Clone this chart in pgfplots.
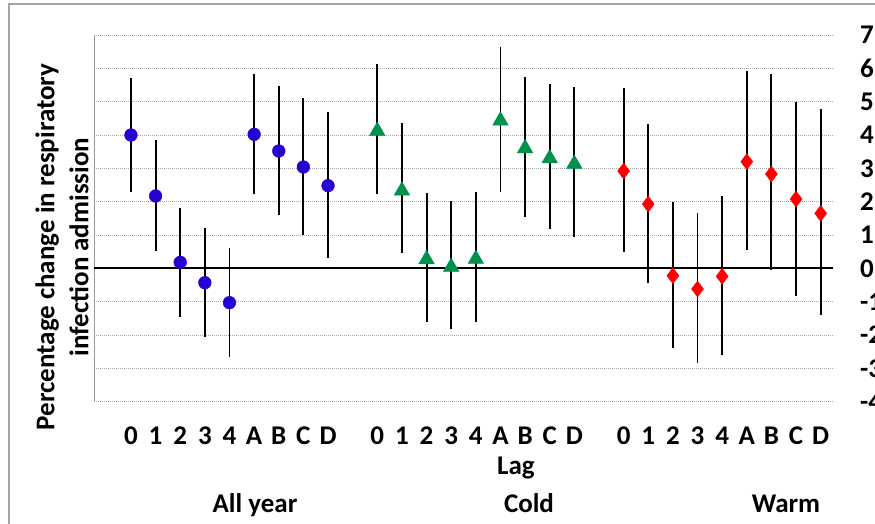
\documentclass[border=0pt]{standalone}
\usepackage{pgfplots}
\pgfplotsset{compat=1.18}
\usepackage{pgfplotstable}
\usepackage{fontspec}
\setmainfont{Carlito}
\definecolor{cblue}{RGB}{40,0,210}
\definecolor{cgreen}{RGB}{0,145,75}
\definecolor{cred}{RGB}{255,0,0}
\definecolor{framegray}{RGB}{165,165,165}

\pgfplotstableread{
x y lo hi
0 4.00 2.30 5.70
1 2.17 0.52 3.85
2 0.18 -1.45 1.82
3 -0.43 -2.05 1.20
4 -1.03 -2.65 0.60
5 4.02 2.23 5.83
6 3.52 1.60 5.46
7 3.04 1.00 5.10
8 2.48 0.30 4.68
}\allyear

\pgfplotstableread{
x y lo hi
10 4.12 2.23 6.13
11 2.33 0.45 4.35
12 0.27 -1.60 2.25
13 0.04 -1.83 2.03
14 0.28 -1.62 2.28
15 4.43 2.30 6.63
16 3.60 1.55 5.75
17 3.30 1.18 5.52
18 3.13 0.93 5.45
}\cold

\pgfplotstableread{
x y lo hi
20 2.92 0.48 5.40
21 1.93 -0.43 4.34
22 -0.22 -2.40 2.00
23 -0.62 -2.85 1.65
24 -0.24 -2.60 2.18
25 3.20 0.55 5.93
26 2.83 -0.05 5.82
27 2.08 -0.83 5.00
28 1.65 -1.40 4.78
}\warm

\newcommand{\lbl}{\bfseries\fontsize{27}{34}\selectfont}

\begin{document}
\begin{tikzpicture}[x=1pt,y=1pt]
\path[use as bounding box] (0pt,0pt) rectangle (875pt,524pt);
\draw[framegray, line width=1.3pt] (9pt,-2pt) -- (9pt,520pt) -- (880pt,520pt);
\begin{axis}[
  at={(94pt,122.3pt)}, anchor=south west,
  scale only axis, width=739pt, height=366.7pt,
  xmin=-1.5, xmax=28.5, ymin=-4, ymax=7,
  axis line style={draw=none},
  xtick={0,1,2,3,4,5,6,7,8,10,11,12,13,14,15,16,17,18,20,21,22,23,24,25,26,27,28},
  xticklabels={0,1,2,3,4,A,B,C,D,0,1,2,3,4,A,B,C,D,0,1,2,3,4,A,B,C,D},
  ytick={-4,-3,-2,-1,0,1,2,3,4,5,6,7},
  yticklabel pos=right,
  xticklabel pos=lower,
  major tick length=0pt,
  xticklabel style={font=\lbl, anchor=base, inner sep=0pt, yshift=-43.3pt},
  yticklabel style={font=\lbl, anchor=west, inner sep=0pt, xshift=27pt},
  /pgf/number format/assume math mode=true,
  ymajorgrids,
  major grid style={gray!70, line width=0.8pt, dash pattern=on 0.8pt off 1.2pt},
  clip=false,
]
\draw[gray!80, line width=1pt] (rel axis cs:0,0) -- (rel axis cs:0,1);
\draw[black, line width=2.2pt] (axis cs:-1.5,0) -- (axis cs:28.5,0);
% error bars
\addplot[only marks, mark=none, error bars/.cd, y dir=both, y explicit,
  error bar style={black, line width=1.9pt}, error mark=none]
  table[x=x, y=y, y error plus expr=\thisrow{hi}-\thisrow{y}, y error minus expr=\thisrow{y}-\thisrow{lo}] {\allyear};
\addplot[only marks, mark=none, error bars/.cd, y dir=both, y explicit,
  error bar style={black, line width=1.9pt}, error mark=none]
  table[x=x, y=y, y error plus expr=\thisrow{hi}-\thisrow{y}, y error minus expr=\thisrow{y}-\thisrow{lo}] {\cold};
\addplot[only marks, mark=none, error bars/.cd, y dir=both, y explicit,
  error bar style={black, line width=1.9pt}, error mark=none]
  table[x=x, y=y, y error plus expr=\thisrow{hi}-\thisrow{y}, y error minus expr=\thisrow{y}-\thisrow{lo}] {\warm};
% markers
\addplot[only marks, mark=*, mark size=6.4pt, color=cblue, mark options={draw=cblue, fill=cblue}]
  table[x=x, y=y] {\allyear};
\addplot[only marks, mark=triangle*, mark size=9pt, color=cgreen, mark options={draw=cgreen, fill=cgreen}]
  table[x=x, y=y] {\cold};
\addplot[only marks, mark=diamond*, mark size=8pt, color=cred, mark options={draw=cred, fill=cred}]
  table[x=x, y=y] {\warm};
\end{axis}
\node[font=\lbl, rotate=90, align=center] at (62pt,277pt) {Percentage change in respiratory\\infection admission};
\node[font=\lbl, anchor=base] at (516pt,49pt) {Lag};
\node[font=\lbl, anchor=base] at (255pt,11pt) {All year};
\node[font=\lbl, anchor=base] at (529pt,11pt) {Cold};
\node[font=\lbl, anchor=base] at (786pt,11pt) {Warm};
\end{tikzpicture}
\end{document}
